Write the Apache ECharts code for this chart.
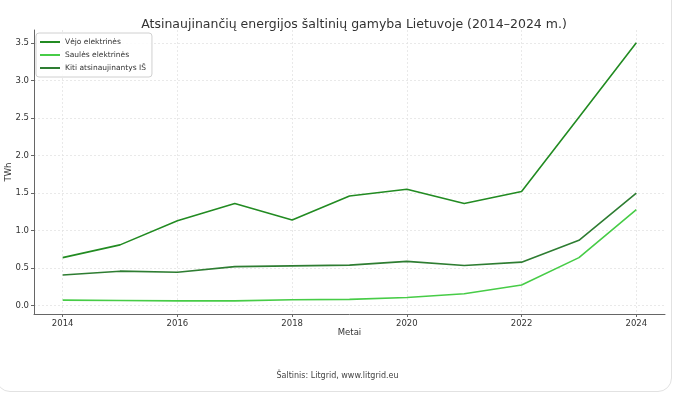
<!DOCTYPE html>
<html><head><meta charset="utf-8">
<script src="https://cdn.jsdelivr.net/npm/echarts@6/dist/echarts.min.js"></script>
<style>
html,body{margin:0;padding:0;background:#fff;overflow:hidden;}
#card{position:absolute;left:-4px;top:-40px;width:676px;height:432px;border:1px solid #e2e2e2;border-radius:14px;box-sizing:border-box;}
#c{position:absolute;left:0;top:0;width:675px;height:398px;}
</style></head>
<body>
<div id="card"></div>
<div id="c"></div>
<script>
const years = [2014,2015,2016,2017,2018,2019,2020,2021,2022,2023,2024];
const wind  = [0.64,0.81,1.13,1.36,1.14,1.46,1.55,1.36,1.52,2.51,3.50];
const solar = [0.075,0.07,0.065,0.065,0.08,0.085,0.11,0.16,0.275,0.64,1.28];
const other = [0.41,0.46,0.445,0.52,0.53,0.54,0.59,0.535,0.58,0.87,1.50];
const xTicks = [2014,2016,2018,2020,2022,2024];
const yTicks = [0,0.5,1,1.5,2,2.5,3,3.5];
const names = ['Vėjo elektrinės','Saulės elektrinės','Kiti atsinaujinantys IŠ'];
const colors = ['#228B22','#47CC47','#2E7D32'];

const F = 'DejaVu Sans';
const chart = echarts.init(document.getElementById('c'));
const mk = (arr) => years.map((y,i)=>[y,arr[i]]);
chart.setOption({
  animation:false,
  textStyle:{fontFamily:F},
  title:{text:'Atsinaujinančių energijos šaltinių gamyba Lietuvoje (2014–2024 m.)',
    left:349, top:13, textAlign:'center',
    textStyle:{fontFamily:F,fontSize:12.5,fontWeight:'normal',color:'#333'}},
  legend:{orient:'vertical',left:36,top:33,icon:'rect',itemWidth:20,itemHeight:2,itemGap:5,
    padding:[5,6,5,4],borderColor:'#d0d0d0',borderWidth:1,borderRadius:3,backgroundColor:'rgba(255,255,255,0.85)',
    textStyle:{fontFamily:F,fontSize:7.5,color:'#333'},data:names},
  grid:{left:34,right:10,top:30,bottom:84,outerBoundsMode:'none',containLabel:false},
  xAxis:{type:'value',min:2013.5,max:2024.5,name:'Metai',nameLocation:'middle',nameGap:14,nameMoveOverlap:false,
    nameTextStyle:{fontFamily:F,fontSize:8.5,color:'#333'},
    axisLine:{show:true,onZero:false,lineStyle:{color:'#666',width:1}},
    axisTick:{show:true,customValues:xTicks,length:3,lineStyle:{color:'#666'}},
    axisLabel:{customValues:xTicks,fontFamily:F,fontSize:8.5,color:'#333',margin:5,formatter:v=>String(v)},
    splitLine:{show:true,lineStyle:{color:'#e4e4e4',type:[2,2],width:0.8}}},
  yAxis:{type:'value',min:-0.11,max:3.67,name:'TWh',nameLocation:'middle',nameGap:21,nameMoveOverlap:false,
    nameTextStyle:{fontFamily:F,fontSize:8.5,color:'#333'},
    axisLine:{show:true,onZero:false,lineStyle:{color:'#666',width:1}},
    axisTick:{show:true,customValues:yTicks,length:3,lineStyle:{color:'#666'}},
    axisLabel:{customValues:yTicks,fontFamily:F,fontSize:8.5,color:'#333',margin:5,formatter:v=>v.toFixed(1)},
    splitLine:{show:true,lineStyle:{color:'#e4e4e4',type:[2,2],width:0.8}}},
  graphic:[{type:'text',left:'center',top:372,style:{text:'Šaltinis: Litgrid, www.litgrid.eu',font:'8px "DejaVu Sans"',fill:'#444'}}],
  series:[
    {name:names[0],type:'line',data:mk(wind),showSymbol:false,lineStyle:{width:1.6,color:colors[0]},itemStyle:{color:colors[0]}},
    {name:names[1],type:'line',data:mk(solar),showSymbol:false,lineStyle:{width:1.6,color:colors[1]},itemStyle:{color:colors[1]}},
    {name:names[2],type:'line',data:mk(other),showSymbol:false,lineStyle:{width:1.6,color:colors[2]},itemStyle:{color:colors[2]}}
  ]
});
</script>
</body></html>
